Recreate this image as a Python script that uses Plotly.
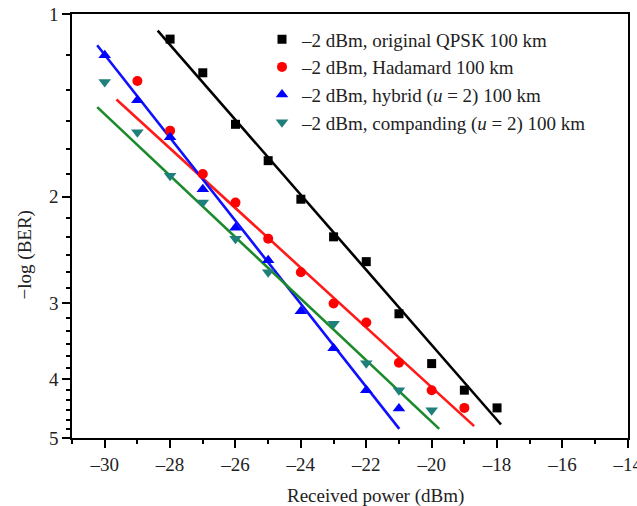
import numpy as np
import plotly.graph_objects as go

# ---- data ----
x_qpsk = [-28, -27, -26, -25, -24, -23, -22, -21, -20, -19, -18]
y_qpsk = [1.10, 1.25, 1.52, 1.745, 2.02, 2.33, 2.56, 3.12, 3.77, 4.17, 4.46]
fit_x_qpsk = [-28.38, -17.88]
fit_y_qpsk = [1.065, 4.75]

x_had = [-29, -28, -27, -26, -25, -24, -23, -22, -21, -20, -19]
y_had = [1.29, 1.557, 1.836, 2.046, 2.346, 2.665, 3.0, 3.225, 3.757, 4.17, 4.46]
fit_x_had = [-29.64, -18.70]
fit_y_had = [1.383, 4.78]

x_hyb = [-30, -29, -28, -27, -26, -25, -24, -23, -22, -21]
y_hyb = [1.17, 1.388, 1.596, 1.944, 2.25, 2.546, 3.09, 3.556, 4.17, 4.47]
fit_x_hyb = [-30.23, -20.99]
fit_y_hyb = [1.126, 4.83]

x_comp = [-30, -29, -28, -27, -26, -25, -23, -22, -21, -20]
y_comp = [1.294, 1.566, 1.848, 2.046, 2.346, 2.665, 3.24, 3.766, 4.17, 4.50]
fit_x_comp = [-30.23, -19.77]
fit_y_comp = [1.424, 4.83]

names = ["\u20132 dBm, original QPSK 100 km",
         "\u20132 dBm, Hadamard 100 km",
         "\u20132 dBm, hybrid (<i>u</i> = 2) 100 km",
         "\u20132 dBm, companding (<i>u</i> = 2) 100 km"]

x_ticks = [-30, -28, -26, -24, -22, -20, -18, -16, -14]
x_ticktext = ["\u201330", "\u201328", "\u201326", "\u201324", "\u201322", "\u201320", "\u201318", "\u201316", "\u201314"]
y_ticks = [1, 2, 3, 4, 5]
y_minor = [m + k / 6 for m in [1, 2, 3, 4] for k in range(1, 6)]

FONT = "Liberation Serif"
series = [
    (x_qpsk, y_qpsk, fit_x_qpsk, fit_y_qpsk, "square", "#000000", "#000000", 9),
    (x_had, y_had, fit_x_had, fit_y_had, "circle", "#ff0000", "#ff1a1a", 10),
    (x_hyb, y_hyb, fit_x_hyb, fit_y_hyb, "triangle-up", "#0000ff", "#1010ff", 11),
    (x_comp, y_comp, fit_x_comp, fit_y_comp, "triangle-down", "#1f7f7a", "#1a8a2a", 11),
]

fig = go.Figure()
for (xs, ys, fx, fy, sym, mc, lc, ms), nm in zip(series, names):
    fig.add_trace(go.Scatter(x=fx, y=fy, mode="lines", line=dict(color=lc, width=2.6),
                             showlegend=False, hoverinfo="skip"))
for (xs, ys, fx, fy, sym, mc, lc, ms), nm in zip(series, names):
    fig.add_trace(go.Scatter(x=xs, y=ys, mode="markers", name=nm,
                             marker=dict(symbol=sym, color=mc, size=ms, line=dict(width=0))))

axis_common = dict(showgrid=False, zeroline=False, showline=True, linecolor="#000",
                   linewidth=1.5, mirror=True, ticks="outside", tickcolor="#000",
                   tickwidth=1.5, ticklen=8, ticklabeloverflow="allow", automargin=False,
                   tickfont=dict(family=FONT, size=19, color="#222"))

fig.update_xaxes(range=[-31, -13.995], tickvals=x_ticks, ticktext=x_ticktext,
                 minor=dict(dtick=1, tick0=-31, ticks="outside", ticklen=4,
                            tickcolor="#000", tickwidth=1.5),
                 **axis_common)
fig.update_yaxes(type="log", range=[np.log10(5), 0], tickvals=y_ticks,
                 ticktext=[str(v) for v in y_ticks],
                 minor=dict(tickvals=y_minor, ticks="outside", ticklen=4,
                            tickcolor="#000", tickwidth=1.5),
                 **axis_common)

fig.add_annotation(text="Received power (dBm)", xref="paper", yref="paper",
                   x=(375 - 72) / 556, y=-(495 - 437.7) / 422, showarrow=False,
                   font=dict(family=FONT, size=19, color="#222"),
                   xanchor="center", yanchor="middle")
fig.add_annotation(text="\u2212log (BER)", xref="paper", yref="paper",
                   x=(25 - 72) / 556, y=(437.7 - 256) / 422, showarrow=False,
                   textangle=-90, font=dict(family=FONT, size=19, color="#222"),
                   xanchor="center", yanchor="middle")

fig.update_layout(
    width=637, height=506,
    margin=dict(l=72, r=9, t=14, b=68, autoexpand=False),
    paper_bgcolor="white", plot_bgcolor="white",
    showlegend=True,
    legend=dict(x=(262 - 72) / 556, y=(437.7 - 22) / 422, xanchor="left", yanchor="top",
                bgcolor="rgba(0,0,0,0)", borderwidth=0,
                font=dict(family=FONT, size=19, color="#222"),
                tracegroupgap=0, itemsizing="trace"),
)

fig.write_html("out.html")
